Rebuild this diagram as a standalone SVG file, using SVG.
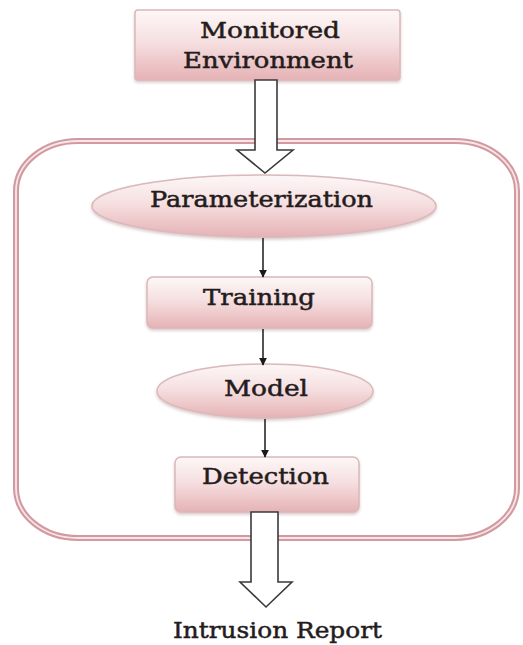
<svg xmlns="http://www.w3.org/2000/svg" width="523" height="645" viewBox="0 0 523 645">
<defs>
<linearGradient id="pink" x1="0" y1="0" x2="0" y2="1">
<stop offset="0" stop-color="#fdf7f7"/>
<stop offset="0.45" stop-color="#f6e0e1"/>
<stop offset="1" stop-color="#e6b2b5"/>
</linearGradient>
<filter id="sh" x="-10%" y="-20%" width="120%" height="150%">
<feDropShadow dx="0" dy="2" stdDeviation="1.5" flood-color="#b08a8c" flood-opacity="0.45"/>
</filter>
<marker id="ah" viewBox="0 0 10 10" refX="9" refY="5" markerWidth="8" markerHeight="8" markerUnits="userSpaceOnUse" orient="auto">
<path d="M0,0 L10,5 L0,10 z" fill="#1a1a1a"/>
</marker>
</defs>
<style>
.node{fill:url(#pink);stroke:#d9b9bb;stroke-width:1.5;filter:url(#sh)}
.lbl{font-family:"DejaVu Serif","Liberation Serif",serif;font-size:23px;fill:#241c1c;stroke:#241c1c;stroke-width:0.5;text-anchor:start}
.frame1{fill:none;stroke:#d29aa0;stroke-width:6}
.frame2{fill:none;stroke:#f7e6e7;stroke-width:1.8}
.block{fill:#ffffff;stroke:#3a3a3a;stroke-width:1.6;stroke-linejoin:miter}
.thin{stroke:#1a1a1a;stroke-width:1.5;fill:none;marker-end:url(#ah)}
</style>
<rect width="523" height="645" fill="#ffffff"/>
<g id="frame">
<rect class="frame1" x="16" y="141" width="501" height="397" rx="62" ry="50"/>
<rect class="frame2" x="16" y="141" width="501" height="397" rx="62" ry="50"/>
</g>
<g id="monitored-environment">
<rect class="node" x="135" y="10" width="265" height="70" rx="3"/>
<text class="lbl" x="200" y="38" textLength="140" lengthAdjust="spacingAndGlyphs">Monitored</text>
<text class="lbl" x="183" y="68" textLength="170" lengthAdjust="spacingAndGlyphs">Environment</text>
</g>
<g id="parameterization">
<ellipse class="node" cx="264" cy="206" rx="172" ry="31"/>
<text class="lbl" x="150" y="207" textLength="223" lengthAdjust="spacingAndGlyphs">Parameterization</text>
</g>
<g id="training">
<rect class="node" x="147" y="277" width="225" height="51" rx="6"/>
<text class="lbl" x="203" y="305" textLength="112" lengthAdjust="spacingAndGlyphs">Training</text>
</g>
<g id="model">
<ellipse class="node" cx="265" cy="391" rx="108" ry="27"/>
<text class="lbl" x="224" y="396" textLength="84" lengthAdjust="spacingAndGlyphs">Model</text>
</g>
<g id="detection">
<rect class="node" x="175" y="457" width="184" height="55" rx="6"/>
<text class="lbl" x="202" y="484" textLength="127" lengthAdjust="spacingAndGlyphs">Detection</text>
</g>
<g id="intrusion-report">
<text class="lbl" x="173" y="638" textLength="209" lengthAdjust="spacingAndGlyphs">Intrusion Report</text>
</g>
<g id="connectors">
<polygon class="block" points="255,80 277,80 277,150 293,150 265,173 237,150 255,150"/>
<line class="thin" x1="263" y1="238" x2="263" y2="277"/>
<line class="thin" x1="263" y1="329" x2="263" y2="365"/>
<line class="thin" x1="265" y1="419" x2="265" y2="457"/>
<polygon class="block" points="251,512 278,512 278,582 292,582 266,607 240,582 251,582"/>
</g>
</svg>
